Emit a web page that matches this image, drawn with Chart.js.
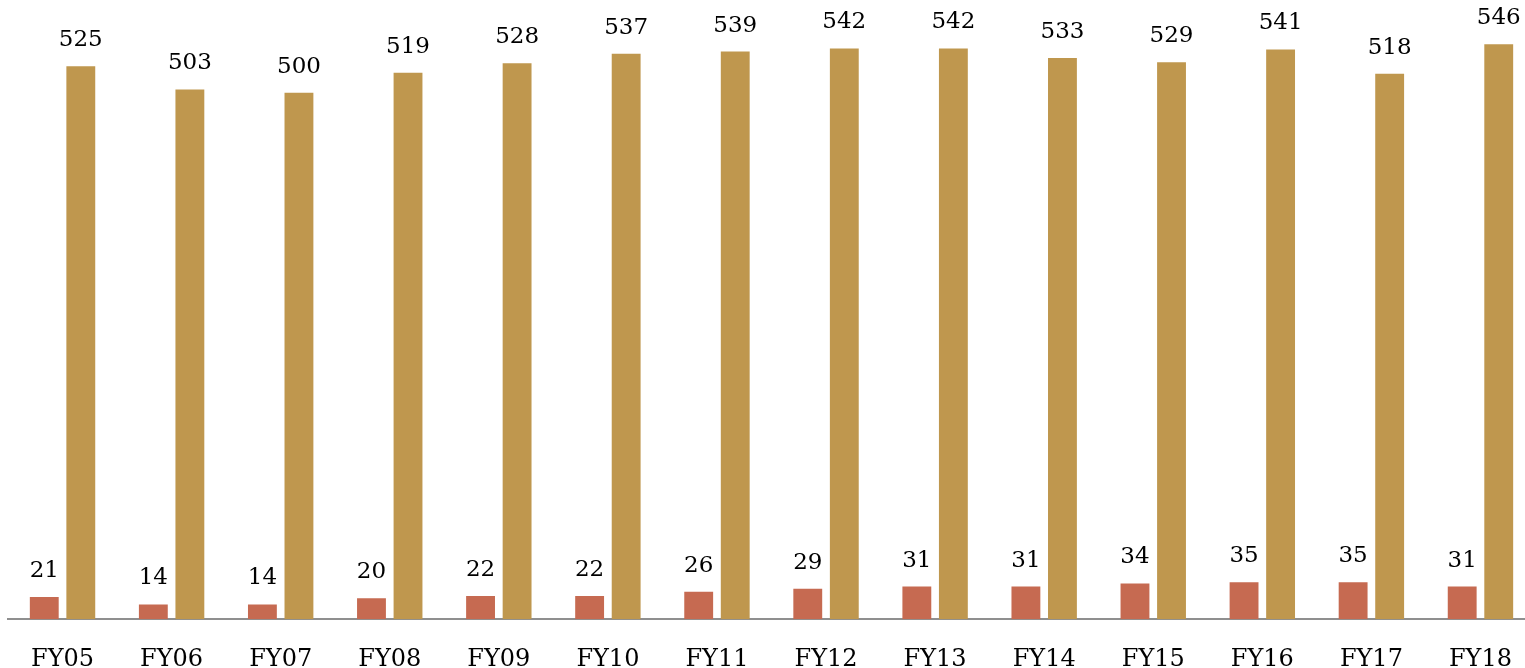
<!DOCTYPE html>
<html>
<head>
<meta charset="utf-8">
<script src="https://cdn.jsdelivr.net/npm/chart.js@4"></script>
<style>
    html, body { margin: 0; padding: 0; background: #fff; overflow: hidden; }
    #wrap { width: 1545px; height: 692px; }
</style>
</head>
<body>
<div id="wrap"><canvas id="myChart"></canvas></div>
<script>
const years = ["FY05", "FY06", "FY07", "FY08", "FY09", "FY10", "FY11", "FY12", "FY13", "FY14", "FY15", "FY16", "FY17", "FY18"];
const smallVals = [21, 14, 14, 20, 22, 22, 26, 29, 31, 31, 34, 35, 35, 31];
const bigVals = [525, 503, 500, 519, 528, 537, 539, 542, 542, 533, 529, 541, 518, 546];

const valueLabels = {
    id: 'valueLabels',
    afterDatasetsDraw(chart) {
        const c = chart.ctx;
        c.save();
        c.font = '23px "DejaVu Serif"';
        c.fillStyle = '#000';
        c.textAlign = 'center';
        c.textBaseline = 'middle';
        chart.data.datasets.forEach((ds, i) => {
            chart.getDatasetMeta(i).data.forEach((bar, j) => {
                c.fillText(ds.data[j], bar.x, bar.y - 26);
            });
        });
        c.restore();
    }
};

new Chart(document.getElementById('myChart'), {
    type: 'bar',
    data: {
        labels: years,
        datasets: [{
            data: smallVals,
            backgroundColor: "#c66a51",
            categoryPercentage: 0.67,
            barPercentage: 0.79,
        }, {
            data: bigVals,
            backgroundColor: "#bf974e",
            categoryPercentage: 0.67,
            barPercentage: 0.79,
        }]
    },
    options: {
        responsive: true,
        maintainAspectRatio: false,
        animation: false,
        layout: { padding: { left: 8, right: 10, top: 0, bottom: 0 } },
        plugins: {
            legend: { display: false },
            tooltip: { enabled: false }
        },
        scales: {
            x: {
                grid: { display: false },
                border: { color: '#8f8f8f', width: 2 },
                ticks: {
                    color: '#000',
                    padding: 18,
                    font: { family: 'DejaVu Serif', size: 24 }
                }
            },
            y: {
                display: false,
                min: 0,
                max: 588
            }
        }
    },
    plugins: [valueLabels]
});
</script>
</body>
</html>
